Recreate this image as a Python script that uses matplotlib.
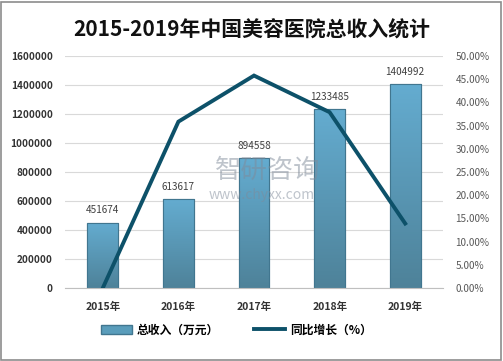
import matplotlib
matplotlib.use("Agg")
import matplotlib.pyplot as plt
import numpy as np
from matplotlib.patches import Rectangle
from matplotlib.lines import Line2D

plt.rcParams['font.family'] = ['Noto Sans CJK SC', 'DejaVu Sans']

years = ["2015年", "2016年", "2017年", "2018年", "2019年"]
revenue = [451674, 613617, 894558, 1233485, 1404992]
growth = [0.0, 35.85, 45.78, 37.89, 13.90]
left_ticks = [0, 200000, 400000, 600000, 800000, 1000000, 1200000, 1400000, 1600000]
right_ticks = [0, 5, 10, 15, 20, 25, 30, 35, 40, 45, 50]

W, H = 503, 361
fig = plt.figure(figsize=(W / 100, H / 100), dpi=100)
fig.patch.set_facecolor("white")
fig.add_artist(Rectangle((1 / W, 1 / H), 1 - 3 / W, 1 - 3 / H, transform=fig.transFigure,
                         fill=False, edgecolor="#8c8c8c", linewidth=1.2))

ax = fig.add_axes([65 / W, 1 - 288 / H, (443 - 65) / W, (288 - 56) / H])
x = np.arange(len(years))
bw = 0.41
bars = ax.bar(x, revenue, width=bw, color="#5a9dbb", edgecolor="#41768f", linewidth=0.8, zorder=2)

grad = np.linspace(0, 1, 256).reshape(-1, 1)
cmap = matplotlib.colors.LinearSegmentedColormap.from_list("g", ["#4e8299", "#64acd0"])
for b in bars:
    xx, yy = b.get_x(), b.get_y()
    im = ax.imshow(grad, extent=[xx, xx + b.get_width(), yy, yy + b.get_height()],
                   origin="lower", aspect="auto", cmap=cmap, zorder=2.1)
    im.set_clip_path(b)
    ax.add_patch(Rectangle((xx, yy), b.get_width(), b.get_height(), fill=False,
                           edgecolor="#41768f", linewidth=0.8, zorder=2.2))

for xi, v in zip(x, revenue):
    ax.text(xi, v + 50000, f"{v}", ha="center", va="bottom", fontsize=7.2, color="#404040", zorder=5)

ax.set_xlim(-0.5, len(years) - 0.5)
ax.set_ylim(0, 1600000)
ax.set_yticks(left_ticks)
ax.set_yticklabels([str(t) for t in left_ticks], fontsize=7.2, color="#333333", fontweight="bold")
ax.set_xticks(x)
ax.set_xticklabels(years, fontsize=7.5, fontweight="bold", color="#333333")
ax.tick_params(axis="x", length=0, pad=10)
ax.tick_params(axis="y", length=0, pad=9)
ax.grid(axis="y", color="#d9d9d9", linewidth=0.8, zorder=0)
for s in ["top", "right", "left"]:
    ax.spines[s].set_visible(False)
ax.spines["bottom"].set_color("#bfbfbf")
ax.set_axisbelow(True)

ax2 = ax.twinx()
ax2.plot(x, growth, color="#0d5169", linewidth=2.8, zorder=4, solid_joinstyle="miter")
ax2.set_ylim(0, 50)
ax2.set_yticks(right_ticks)
ax2.set_yticklabels([f"{t:.2f}%" for t in right_ticks], fontsize=7.2, color="#595959")
ax2.tick_params(axis="y", length=0, pad=9)
for s in ["top", "right", "left", "bottom"]:
    ax2.spines[s].set_visible(False)

# watermark
fig.text(268 / W, 1 - 170 / H, "智研咨询", fontsize=19, color="#7f8a99", alpha=0.5,
         ha="center", va="center", zorder=10)
fig.text(262 / W, 1 - 195 / H, "www.chyxx.com", fontsize=10, color="#7f8a99", alpha=0.5,
         ha="center", va="center", zorder=10)

fig.text(0.5, 1 - 30 / H, "2015-2019年中国美容医院总收入统计", fontsize=15, fontweight="bold",
         ha="center", va="center", color="#111111")

handles = [Rectangle((0, 0), 1, 1, facecolor="#5a9dbb", edgecolor="#41768f"),
           Line2D([0], [0], color="#0d5169", linewidth=2.8)]
fig.legend(handles, ["总收入（万元）", "同比增长（%）"], loc="center", bbox_to_anchor=(0.47, 1 - 330 / H),
           ncol=2, frameon=False, handlelength=2.6, handleheight=0.7, columnspacing=3.0,
           handletextpad=0.4, prop={"weight": "bold", "size": 8.5})

fig.savefig("out.png", dpi=100, facecolor="white")
